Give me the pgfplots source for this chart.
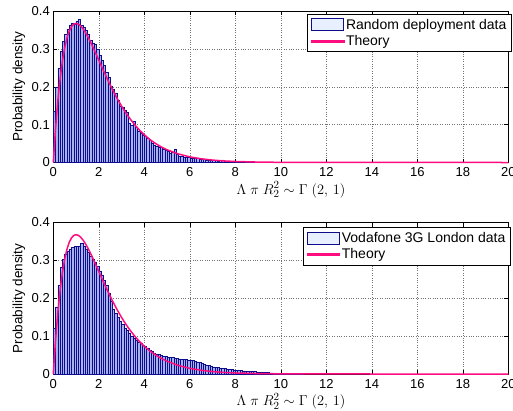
\documentclass[border=0pt]{standalone}
\usepackage{fontspec}
\setmainfont{Liberation Sans}
\usepackage{pgfplots}
\pgfplotsset{compat=1.18}
\definecolor{barfill}{rgb}{0.91,0.94,1.0}
\definecolor{barin}{rgb}{0.66,0.70,0.94}
\definecolor{baredge}{rgb}{0.05,0.05,0.55}
\definecolor{theory}{rgb}{1,0.05,0.5}
\pgfplotstableread{
x y
0.0 0.135
0.1 0.200
0.2 0.250
0.3 0.293
0.4 0.320
0.5 0.338
0.6 0.353
0.7 0.364
0.8 0.368
0.9 0.366
1.0 0.373
1.1 0.380
1.2 0.362
1.3 0.357
1.4 0.349
1.5 0.340
1.6 0.324
1.7 0.316
1.8 0.312
1.9 0.299
2.0 0.284
2.1 0.270
2.2 0.256
2.3 0.238
2.4 0.225
2.5 0.203
2.6 0.194
2.7 0.182
2.8 0.166
2.9 0.150
3.0 0.146
3.1 0.138
3.2 0.133
3.3 0.105
3.4 0.098
3.5 0.108
3.6 0.092
3.7 0.082
3.8 0.078
3.9 0.073
4.0 0.070
4.1 0.065
4.2 0.060
4.3 0.050
4.4 0.046
4.5 0.042
4.6 0.040
4.7 0.041
4.8 0.035
4.9 0.033
5.0 0.030
5.1 0.025
5.2 0.028
5.3 0.034
5.4 0.022
5.5 0.016
5.6 0.017
5.7 0.015
5.8 0.014
5.9 0.015
6.0 0.012
6.1 0.011
6.2 0.010
6.3 0.012
6.4 0.009
6.5 0.008
6.6 0.009
6.7 0.007
6.8 0.006
6.9 0.006
7.0 0.005
7.1 0.006
7.2 0.004
7.3 0.005
7.4 0.007
7.5 0.004
7.6 0.003
7.7 0.003
7.8 0.004
7.9 0.002
8.0 0.003
8.1 0.002
8.2 0.002
8.3 0.001
8.4 0.002
8.5 0.001
8.6 0.001
8.7 0.002
8.8 0.001
8.9 0.001
9.0 0.000
}\randomdata
\pgfplotstableread{
x y
0.0 0.121
0.1 0.175
0.2 0.235
0.3 0.283
0.4 0.303
0.5 0.316
0.6 0.324
0.7 0.330
0.8 0.335
0.9 0.337
1.0 0.336
1.1 0.338
1.2 0.346
1.3 0.338
1.4 0.330
1.5 0.322
1.6 0.312
1.7 0.303
1.8 0.294
1.9 0.285
2.0 0.272
2.1 0.262
2.2 0.248
2.3 0.235
2.4 0.214
2.5 0.193
2.6 0.172
2.7 0.160
2.8 0.151
2.9 0.140
3.0 0.131
3.1 0.122
3.2 0.116
3.3 0.108
3.4 0.101
3.5 0.095
3.6 0.090
3.7 0.085
3.8 0.080
3.9 0.076
4.0 0.072
4.1 0.067
4.2 0.063
4.3 0.059
4.4 0.056
4.5 0.053
4.6 0.051
4.7 0.049
4.8 0.048
4.9 0.046
5.0 0.044
5.1 0.043
5.2 0.043
5.3 0.042
5.4 0.041
5.5 0.040
5.6 0.039
5.7 0.039
5.8 0.038
5.9 0.037
6.0 0.037
6.1 0.035
6.2 0.033
6.3 0.032
6.4 0.030
6.5 0.028
6.6 0.026
6.7 0.024
6.8 0.022
6.9 0.021
7.0 0.019
7.1 0.018
7.2 0.017
7.3 0.016
7.4 0.015
7.5 0.014
7.6 0.013
7.7 0.012
7.8 0.012
7.9 0.011
8.0 0.010
8.1 0.009
8.2 0.009
8.3 0.008
8.4 0.008
8.5 0.007
8.6 0.007
8.7 0.006
8.8 0.006
8.9 0.005
9.0 0.005
9.1 0.005
9.2 0.004
9.3 0.004
9.4 0.004
9.5 0.003
9.6 0.003
9.7 0.003
9.8 0.002
9.9 0.002
10.0 0.002
10.2 0.001
10.4 0.001
10.6 0.001
10.8 0.001
11.0 0.000
}\vodadata
\pgfplotstableread{
x y
0 0
0.05 0.0476
0.1 0.0905
0.2 0.1637
0.3 0.2222
0.4 0.2681
0.5 0.3033
0.6 0.3293
0.7 0.3476
0.8 0.3595
0.9 0.3659
1.0 0.3679
1.1 0.3662
1.2 0.3614
1.3 0.3543
1.4 0.3452
1.5 0.3347
1.6 0.3230
1.7 0.3106
1.8 0.2975
1.9 0.2842
2.0 0.2707
2.2 0.2438
2.4 0.2177
2.6 0.1931
2.8 0.1703
3.0 0.1494
3.2 0.1304
3.4 0.1135
3.6 0.0984
3.8 0.0851
4.0 0.0733
4.25 0.0606
4.5 0.0500
4.75 0.0411
5.0 0.0337
5.5 0.0225
6.0 0.0149
6.5 0.0098
7.0 0.0064
7.5 0.0041
8.0 0.0027
9.0 0.0011
10 0.00045
12 0.00007
14 0.00001
20 0
}\theorydata
\pgfplotsset{
  mystyle/.style={
    anchor=south west,
    scale only axis,
    width=455pt,
    xmin=0, xmax=20, ymin=0, ymax=0.4,
    xtick={0,2,...,20},
    xticklabels={0,2,4,6,8,10,12,14,16,18,20},
    ytick={0,0.1,0.2,0.3,0.4},
    yticklabels={0,0.1,0.2,0.3,0.4},
    tick align=inside,
    major tick length=4pt,
    tick style={black, line width=0.5pt},
    axis line style={line width=0.7pt},
    grid=major,
    grid style={dotted, black!55, line width=0.5pt},
    ticklabel style={font=\fontsize{13}{15}\selectfont},
    xticklabel style={inner sep=0pt, yshift=-5pt},
    label style={font=\fontsize{13.5}{15}\selectfont},
    xlabel={\fontsize{15}{17}\selectfont$\Lambda\;\pi\;R_2^2\sim\Gamma\;(2,\,1)$},
    ylabel={Probability density},
    xlabel style={at={(axis description cs:0.5224,-0.180)}, anchor=center, inner sep=0pt},
    ylabel style={at={(axis description cs:-0.0754,0.5)}, anchor=center},
    clip=false,
    legend cell align=left,
    legend style={draw=black, line width=0.7pt, font=\fontsize{14}{16}\selectfont,
      inner xsep=3.5pt, inner ysep=2.5pt, row sep=1pt, anchor=north east,
      nodes={inner xsep=1.5pt}},
  },
  histleg/.style={legend image code/.code={\draw[fill=barfill, draw=baredge, line width=0.6pt] (0pt,-6pt) rectangle (32pt,6pt);}},
  lineleg/.style={legend image code/.code={\fill[theory] (0pt,-0.9pt) rectangle (32pt,0.9pt);}},
}
\begin{document}
\begin{tikzpicture}
\useasboundingbox (0pt,0pt) rectangle (513pt,410pt);
\begin{axis}[mystyle, at={(53.3pt,247.5pt)}, height=151.2pt,
  legend style={at={(1.0075,0.982)}}]
\addplot[ybar interval, fill=barin, draw=baredge, line width=0.5pt, histleg] table {\randomdata};
\addlegendentry{Random deployment data}
\addplot[theory, line width=1.5pt, lineleg] table {\theorydata};
\addlegendentry{Theory}
\end{axis}
\begin{axis}[mystyle, at={(53.3pt,36pt)}, height=151.5pt,
  legend style={at={(1.0053,0.968)}}]
\addplot[ybar interval, fill=barin, draw=baredge, line width=0.5pt, histleg] table {\vodadata};
\addlegendentry{Vodafone 3G London data}
\addplot[theory, line width=1.5pt, lineleg] table {\theorydata};
\addlegendentry{Theory}
\end{axis}
\end{tikzpicture}
\end{document}
